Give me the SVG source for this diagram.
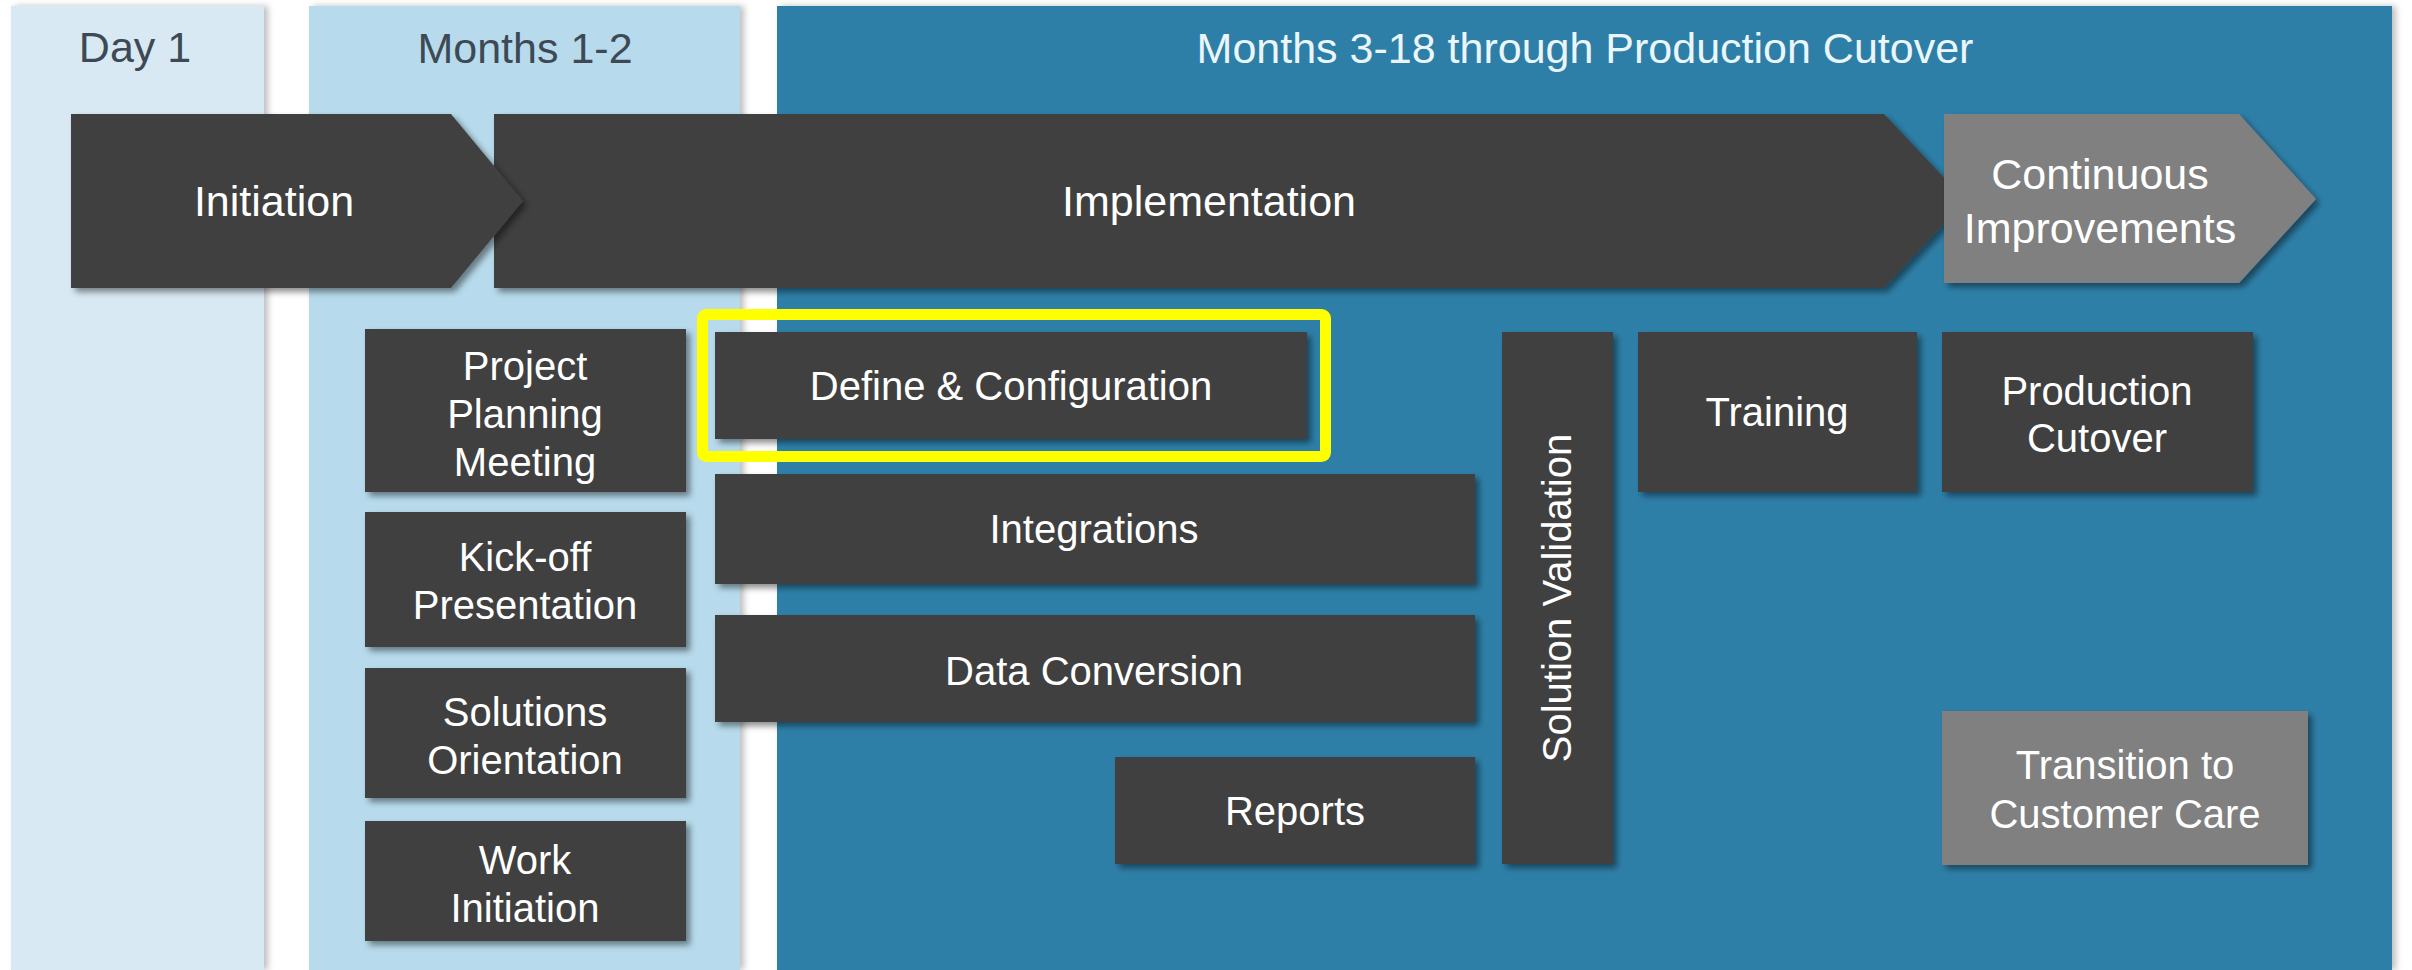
<svg xmlns="http://www.w3.org/2000/svg" width="2412" height="970" viewBox="0 0 2412 970">
<defs>
<filter id="sh" x="-10%" y="-10%" width="130%" height="130%">
<feDropShadow dx="4" dy="4" stdDeviation="3" flood-color="#000" flood-opacity="0.45"/>
</filter>
<filter id="psh" x="-5%" y="-5%" width="110%" height="110%">
<feDropShadow dx="4" dy="0" stdDeviation="3" flood-color="#000" flood-opacity="0.25"/>
</filter>
<style>
text{font-family:"Liberation Sans",Arial,sans-serif;text-anchor:middle}
.dark{fill:#404040}
.gray{fill:#808080}
.t{fill:#ffffff;font-size:40px}
.ta{fill:#ffffff;font-size:43px}
.hd{fill:#3d4a55;font-size:43px}
.hw{fill:#eaf6fb;font-size:43px}
</style>
</defs>
<rect x="0" y="0" width="2412" height="970" fill="#ffffff"/>
<g id="panels">
<g id="panel-day1">
<rect x="11" y="6" width="253" height="964" fill="#d9e9f3" filter="url(#psh)"/>
<text class="hd" x="135" y="62">Day 1</text>
</g>
<g id="panel-months12">
<rect x="309" y="6" width="431" height="964" fill="#b7dbec" filter="url(#psh)"/>
<text class="hd" x="525" y="63">Months 1-2</text>
</g>
<g id="panel-months318">
<rect x="777" y="6" width="1615" height="964" fill="#2d7fa8" filter="url(#psh)"/>
<text class="hw" x="1585" y="63">Months 3-18 through Production Cutover</text>
</g>
</g>
<g id="implementation">
<polygon class="dark" points="494,114 1884,114 1966,201 1884,288 494,288" filter="url(#sh)"/>
<text class="ta" x="1209" y="216">Implementation</text>
</g>
<g id="initiation">
<polygon class="dark" points="71,114 451,114 523,201 451,288 71,288" filter="url(#sh)"/>
<text class="ta" x="274" y="216">Initiation</text>
</g>
<g id="continuous-improvements">
<polygon class="gray" points="1944,114 2239,114 2316,199 2239,283 1944,283" filter="url(#sh)"/>
<text class="ta" x="2100" y="189">Continuous</text>
<text class="ta" x="2100" y="243">Improvements</text>
</g>
<g id="project-planning-meeting">
<rect class="dark" x="365" y="329" width="321" height="163" filter="url(#sh)"/>
<text class="t" x="525" y="380">Project</text>
<text class="t" x="525" y="428">Planning</text>
<text class="t" x="525" y="476">Meeting</text>
</g>
<g id="kickoff-presentation">
<rect class="dark" x="365" y="512" width="321" height="135" filter="url(#sh)"/>
<text class="t" x="525" y="571">Kick-off</text>
<text class="t" x="525" y="619">Presentation</text>
</g>
<g id="solutions-orientation">
<rect class="dark" x="365" y="668" width="321" height="130" filter="url(#sh)"/>
<text class="t" x="525" y="726">Solutions</text>
<text class="t" x="525" y="774">Orientation</text>
</g>
<g id="work-initiation">
<rect class="dark" x="365" y="821" width="321" height="120" filter="url(#sh)"/>
<text class="t" x="525" y="874">Work</text>
<text class="t" x="525" y="922">Initiation</text>
</g>
<g id="define-configuration">
<rect class="dark" x="715" y="332" width="592" height="107" filter="url(#sh)"/>
<text class="t" x="1011" y="400">Define &amp; Configuration</text>
<rect x="702.5" y="314.5" width="623" height="142" rx="4" fill="none" stroke="#ffff00" stroke-width="11"/>
</g>
<g id="integrations">
<rect class="dark" x="715" y="474" width="760" height="110" filter="url(#sh)"/>
<text class="t" x="1094" y="543">Integrations</text>
</g>
<g id="data-conversion">
<rect class="dark" x="715" y="615" width="760" height="107" filter="url(#sh)"/>
<text class="t" x="1094" y="685">Data Conversion</text>
</g>
<g id="reports">
<rect class="dark" x="1115" y="757" width="360" height="107" filter="url(#sh)"/>
<text class="t" x="1295" y="825">Reports</text>
</g>
<g id="solution-validation">
<rect class="dark" x="1502" y="332" width="111" height="532" filter="url(#sh)"/>
<text class="t" transform="translate(1571,598) rotate(-90)" x="0" y="0">Solution Validation</text>
</g>
<g id="training">
<rect class="dark" x="1638" y="332" width="279" height="160" filter="url(#sh)"/>
<text class="t" x="1777" y="426">Training</text>
</g>
<g id="production-cutover">
<rect class="dark" x="1942" y="332" width="311" height="160" filter="url(#sh)"/>
<text class="t" x="2097" y="405">Production</text>
<text class="t" x="2097" y="452">Cutover</text>
</g>
<g id="transition-customer-care">
<rect class="gray" x="1942" y="711" width="366" height="154" filter="url(#sh)"/>
<text class="t" x="2125" y="779">Transition to</text>
<text class="t" x="2125" y="828">Customer Care</text>
</g>
<g id="connectors"></g>
</svg>
